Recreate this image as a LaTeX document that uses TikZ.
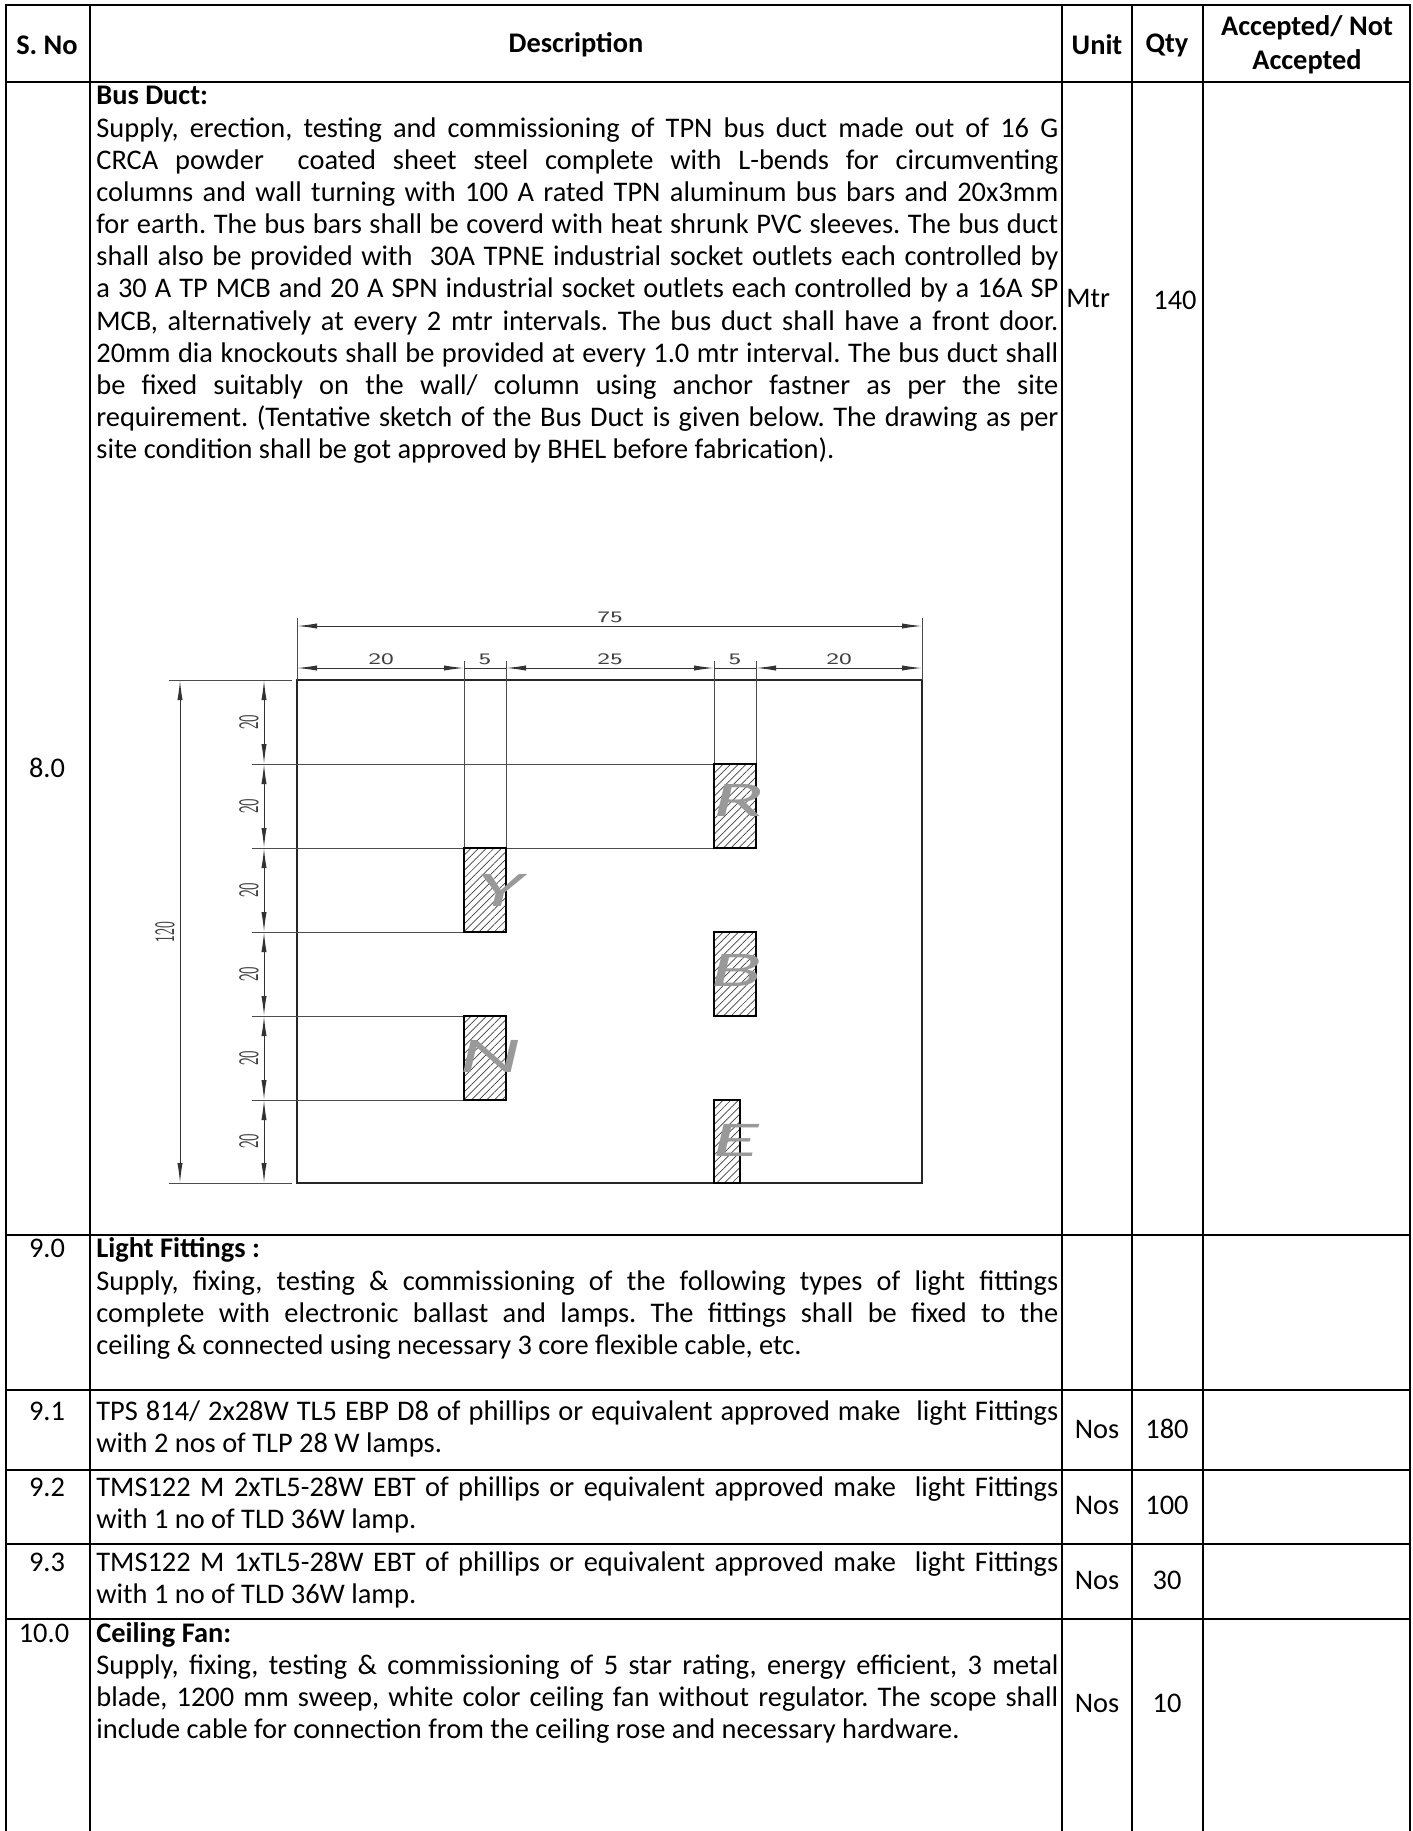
\documentclass[tikz,border=0pt]{standalone}
\usepackage{fontspec}
\usepackage{graphicx}
\setmainfont{Carlito}
\frenchspacing
\usetikzlibrary{arrows.meta,patterns.meta}
\newcommand\JL[3]{\node[txt] (#1) at (96,#2) {\makebox[481pt][s]{#3}};}
\newcommand\LL[3]{\node[txt] (#1) at (96,#2) {#3};}
\tikzset{
  grid/.style={line width=1.3pt, black},
  body/.style={font=\fontsize{14.2}{16}\selectfont, inner sep=0},
  txt/.style={body, anchor=base west},
  hdr/.style={font=\fontsize{14.2}{16}\selectfont\bfseries, inner sep=0, align=center},
  cen/.style={body, anchor=base},
  edge/.style={line width=0.7pt, black!85},
  ext/.style={line width=0.5pt, black!70},
  dimarr/.style={line width=0.5pt, black!80, {Latex[length=10pt,width=2.6pt]}-{Latex[length=10pt,width=2.6pt]}},
  dimplain/.style={line width=0.5pt, black!80},
  hlbl/.style={font=\fontsize{8}{8}\selectfont\sffamily, text=black!75, inner sep=0},
  vlbl/.style={font=\fontsize{14}{14}\selectfont\sffamily, text=black!75, inner sep=0, rotate=90},
  bar/.style={draw=black, line width=0.7pt, pattern={Lines[angle=45,distance=2.7pt,line width=0.35pt]}, pattern color=black!75},
  phase/.style={font=\fontsize{25}{25}\selectfont\itshape, text=black!40, inner sep=0},
}
\newcommand\wide[1]{\scalebox{1.9}[1]{#1}}
\begin{document}
\begin{tikzpicture}[x=0.5pt,y=-0.5pt]
\useasboundingbox (0,0) rectangle (1413,1831);
\fill[white] (0,0) rectangle (1413,1831);
% ---------- table grid ----------
\foreach \xx in {6,90,1062,1132,1203,1410} \draw[grid] (\xx,5) -- (\xx,1831);
\foreach \yy in {5,82,1235,1390,1470,1544,1619} \draw[grid] (5,\yy) -- (1411,\yy);
% ---------- header ----------
\node[hdr] (hsno) at (47,45) {S. No};
\node[hdr] (hdesc) at (576,45) {Description};
\node[hdr] (hunit) at (1097,45) {Unit};
\node[hdr] (hqty) at (1167,45) {Qty};
\node[hdr] (hacc) at (1307,45) {Accepted/ Not\\[1pt]Accepted};
% ---------- row 8.0 ----------
\node[cen] (n80) at (47,777) {8.0};
\LL{a0}{104}{\bfseries Bus Duct:}
\JL{a1}{137}{Supply, erection, testing and commissioning of TPN bus duct made out of 16 G}
\JL{a2}{169}{CRCA powder\ \ coated sheet steel complete with L-bends for circumventing}
\JL{a3}{201}{columns and wall turning with 100 A rated TPN aluminum bus bars and 20x3mm}
\JL{a4}{233}{for earth. The bus bars shall be coverd with heat shrunk PVC sleeves. The bus duct}
\JL{a5}{265}{shall also be provided with\ \ 30A TPNE industrial socket outlets each controlled by}
\JL{a6}{297}{a 30 A TP MCB and 20 A SPN industrial socket outlets each controlled by a 16A SP}
\JL{a7}{330}{MCB, alternatively at every 2 mtr intervals. The bus duct shall have a front door.}
\JL{a8}{362}{20mm dia knockouts shall be provided at every 1.0 mtr interval. The bus duct shall}
\JL{a9}{394}{be fixed suitably on the wall/ column using anchor fastner as per the site}
\JL{a10}{426}{requirement. (Tentative sketch of the Bus Duct is given below. The drawing as per}
\LL{a11}{458}{site condition shall be got approved by BHEL before fabrication).}
\node[body, anchor=base west] (u80) at (1066,307) {Mtr};
\node[body, anchor=base east] (q80) at (1197,309) {140};
% ---------- drawing ----------
\draw[edge] (297,680) rectangle (922,1183);
\draw[ext] (297,618) -- (297,680);
\draw[ext] (922,618) -- (922,680);
\draw[ext] (464,661) -- (464,848);
\draw[ext] (506,661) -- (506,848);
\draw[ext] (714,661) -- (714,764);
\draw[ext] (756,661) -- (756,764);
\draw[ext] (169,680) -- (292,680);
\draw[ext] (169,1183) -- (292,1183);
\draw[ext] (252,764) -- (714,764);
\draw[ext] (252,848) -- (714,848);
\draw[ext] (252,932) -- (464,932);
\draw[ext] (252,1016) -- (464,1016);
\draw[ext] (252,1100) -- (464,1100);
\coordinate (d75a) at (297,626); \coordinate (d75b) at (922,626);
\draw[dimarr] (d75a) -- (d75b);
\node[hlbl] (l75) at (610,617) {\scalebox{1.5}[1]{75}};
\coordinate (h0) at (297,668); \coordinate (h1) at (464,668); \coordinate (h2) at (506,668);
\coordinate (h3) at (714,668); \coordinate (h4) at (756,668); \coordinate (h5) at (922,668);
\draw[dimarr] (h0) -- (h1);
\draw[dimplain] (h1) -- (h2);
\draw[dimarr] (h2) -- (h3);
\draw[dimplain] (h3) -- (h4);
\draw[dimarr] (h4) -- (h5);
\node[hlbl] (l20a) at (381,659) {\scalebox{1.5}[1]{20}};
\node[hlbl] (l5a) at (485,659) {\scalebox{1.5}[1]{5}};
\node[hlbl] (l25) at (610,659) {\scalebox{1.5}[1]{25}};
\node[hlbl] (l5b) at (735,659) {\scalebox{1.5}[1]{5}};
\node[hlbl] (l20b) at (839,659) {\scalebox{1.5}[1]{20}};
\coordinate (v0) at (264,680); \coordinate (v1) at (264,764); \coordinate (v2) at (264,848);
\coordinate (v3) at (264,932); \coordinate (v4) at (264,1016); \coordinate (v5) at (264,1100);
\coordinate (v6) at (264,1183);
\draw[dimarr] (v0) -- (v1);
\draw[dimarr] (v1) -- (v2);
\draw[dimarr] (v2) -- (v3);
\draw[dimarr] (v3) -- (v4);
\draw[dimarr] (v4) -- (v5);
\draw[dimarr] (v5) -- (v6);
\foreach \yy/\nm in {722/va,806/vb,890/vc,974/vd,1058/ve,1141/vf}
  \node[vlbl] (\nm) at (249,\yy) {\scalebox{0.55}[1]{20}};
\coordinate (w0) at (180,680); \coordinate (w1) at (180,1183);
\draw[dimarr] (w0) -- (w1);
\node[vlbl] (l120) at (165,932) {\scalebox{0.5}[1]{120}};
\draw[bar] (714,764) rectangle (756,848);
\draw[bar] (464,848) rectangle (506,932);
\draw[bar] (714,932) rectangle (756,1016);
\draw[bar] (464,1016) rectangle (506,1100);
\draw[bar] (714,1100) rectangle (740,1183);
\node[phase] (pR) at (738,800) {\wide{R}};
\node[phase] (pY) at (500,890) {\wide{Y}};
\node[phase] (pB) at (736,970) {\wide{B}};
\node[phase] (pN) at (490,1056) {\wide{N}};
\node[phase] (pE) at (736,1140) {\wide{E}};
% ---------- row 9.0 ----------
\node[cen] (n90) at (47,1257) {9.0};
\LL{b0}{1257}{\bfseries Light Fittings :}
\JL{b1}{1290}{Supply, fixing, testing \& commissioning of the following types of light fittings}
\JL{b2}{1322}{complete with electronic ballast and lamps. The fittings shall be fixed to the}
\LL{b3}{1354}{ceiling \& connected using necessary 3 core flexible cable, etc.}
% ---------- row 9.1 ----------
\node[cen] (n91) at (47,1420) {9.1};
\JL{c0}{1420}{TPS 814/ 2x28W TL5 EBP D8 of phillips or equivalent approved make\ \ light Fittings}
\LL{c1}{1452}{with 2 nos of TLP 28 W lamps.}
\node[cen] (u91) at (1097,1438) {Nos};
\node[cen] (q91) at (1167,1438) {180};
% ---------- row 9.2 ----------
\node[cen] (n92) at (47,1496) {9.2};
\JL{d0}{1496}{TMS122 M 2xTL5-28W EBT of phillips or equivalent approved make\ \ light Fittings}
\LL{d1}{1528}{with 1 no of TLD 36W lamp.}
\node[cen] (u92) at (1097,1514) {Nos};
\node[cen] (q92) at (1167,1514) {100};
% ---------- row 9.3 ----------
\node[cen] (n93) at (47,1571) {9.3};
\JL{e0}{1571}{TMS122 M 1xTL5-28W EBT of phillips or equivalent approved make\ \ light Fittings}
\LL{e1}{1603}{with 1 no of TLD 36W lamp.}
\node[cen] (u93) at (1097,1589) {Nos};
\node[cen] (q93) at (1167,1589) {30};
% ---------- row 10.0 ----------
\node[cen] (n100) at (44,1642) {10.0};
\LL{f0}{1642}{\bfseries Ceiling Fan:}
\JL{f1}{1674}{Supply, fixing, testing \& commissioning of 5 star rating, energy efficient, 3 metal}
\JL{f2}{1706}{blade, 1200 mm sweep, white color ceiling fan without regulator. The scope shall}
\LL{f3}{1738}{include cable for connection from the ceiling rose and necessary hardware.}
\node[cen] (u100) at (1097,1712) {Nos};
\node[cen] (q100) at (1167,1712) {10};
\end{tikzpicture}
\end{document}
